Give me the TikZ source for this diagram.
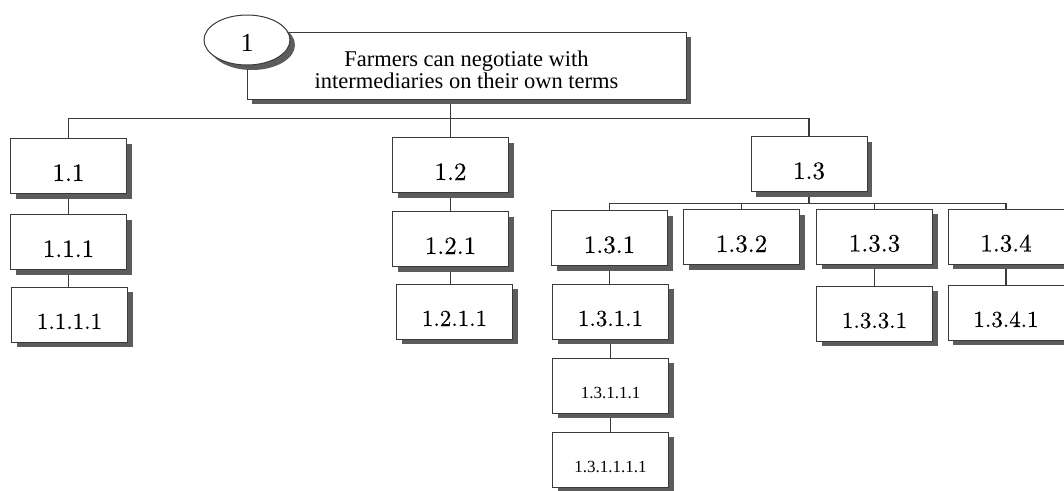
\documentclass[tikz,border=0pt]{standalone}
\usepackage{fontspec}
\newfontfamily\timesfont{Liberation Serif}
\newfontfamily\numfont{lmroman10-regular.otf}[FakeBold=0.4]
\usetikzlibrary{shadows,backgrounds,shapes.geometric}
\definecolor{linegray}{HTML}{3A3A3A}
\definecolor{shadegray}{HTML}{5C5C5C}
\tikzset{
  shadowed/.style={drop shadow={shadow xshift=5pt, shadow yshift=-5pt, fill=shadegray, opacity=1}},
  plainbox/.style={draw=linegray, line width=1pt, fill=white, inner sep=0pt, shadowed},
  numbox/.style={plainbox, minimum width=116pt, minimum height=55pt, text height=30pt, text depth=0pt,
    font=\numfont\fontsize{25}{25}\selectfont},
  link/.style={draw=linegray, line width=1.1pt},
}
\begin{document}
\begin{tikzpicture}[x=1pt,y=-1pt]
  \useasboundingbox (0,0) rectangle (1064,490);
  % goal box with its number
  \node[plainbox, minimum width=439pt, minimum height=67pt, align=center,
    font=\timesfont\fontsize{22.5}{22}\selectfont] (goal) at (466.5,65.5)
    {\rule{0pt}{25pt}Farmers can negotiate with\\intermediaries on their own terms};
  \node[draw=linegray, line width=1pt, fill=white, ellipse, shadowed, minimum width=86pt, minimum height=50pt,
    inner sep=0pt, text height=22pt, text depth=0pt, font=\timesfont\fontsize{26}{26}\selectfont] (root) at (247,40) {1};
  % second and third level
  \foreach \n/\x/\y/\t in {n11/68.5/166/1.1, n12/450.5/165/1.2, n13/809/164/1.3,
      n111/68.5/242/1.1.1, n121/450.5/239/1.2.1, n131/609.5/238/1.3.1,
      n132/741.5/237/1.3.2, n133/874.5/236.5/1.3.3, n134/1006/236.5/1.3.4}{
    \node[numbox] (\n) at (\x,\y) {\t};
  }
  % fourth level
  \foreach \n/\x/\y/\t in {n1111/69.5/314.5/1.1.1.1, n1211/454.5/311.5/1.2.1.1,
      n1311/610.5/311.5/1.3.1.1, n1331/874.5/313.5/1.3.3.1, n1341/1006/312.5/1.3.4.1}{
    \node[numbox, text height=29pt, font=\numfont\fontsize{23}{23}\selectfont] (\n) at (\x,\y) {\t};
  }
  \node[numbox, text height=26pt, font=\timesfont\fontsize{17}{17}\selectfont] (n13111) at (610.5,385.5) {1.3.1.1.1};
  \node[numbox, text height=26pt, font=\timesfont\fontsize{17}{17}\selectfont] (n131111) at (610.5,459.5) {1.3.1.1.1.1};
  % connectors
  \begin{pgfonlayer}{background}
    \coordinate (bus1) at ([yshift=-19pt]goal.south -| n12.north);
    \coordinate (bus13) at ([yshift=-11.5pt]n13.south);
    \draw[link] (goal.south -| n12.north) -- (n12.north);
    \draw[link] (n11.north) |- (bus1) -| (n13.north);
    \draw[link] (n13.south) -- (bus13);
    \draw[link] (n131.north) |- (bus13) -| (n134.north);
    \foreach \c in {n132,n133}{
      \draw[link] (\c.north) -- (\c.north |- bus13);
    }
    \foreach \a/\b in {n11/n111, n111/n1111, n12/n121, n121/n1211, n131/n1311,
        n1311/n13111, n13111/n131111, n133/n1331, n134/n1341}{
      \draw[link] (\a.south) -- (\a.south |- \b.north);
    }
  \end{pgfonlayer}
\end{tikzpicture}
\end{document}
